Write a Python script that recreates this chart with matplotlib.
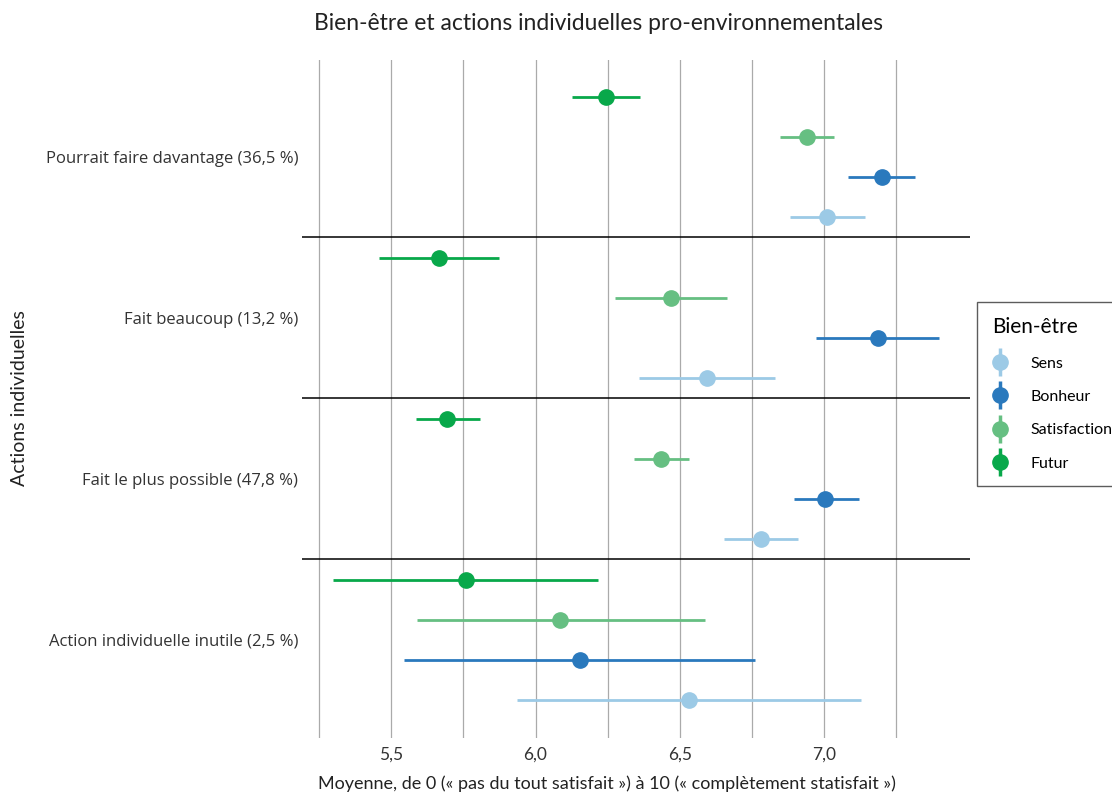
import matplotlib
matplotlib.use("Agg")
import matplotlib.pyplot as plt
from matplotlib.lines import Line2D
import numpy as np

# categories, top to bottom
categories = ["Pourrait faire davantage (36,5 %)", "Fait beaucoup (13,2 %)",
              "Fait le plus possible (47,8 %)", "Action individuelle inutile (2,5 %)"]

# series (legend order) with mean, lower and upper bounds per category
series = ["Sens", "Bonheur", "Satisfaction", "Futur"]
colors = ["#9ccae6", "#2a79bd", "#66bf82", "#08a84a"]

sens_mean = [7.011, 6.593, 6.781, 6.531]
sens_low = [6.882, 6.358, 6.655, 5.935]
sens_high = [7.142, 6.829, 6.910, 7.128]

bonheur_mean = [7.201, 7.186, 7.005, 6.153]
bonheur_low = [7.084, 6.974, 6.895, 5.543]
bonheur_high = [7.316, 7.398, 7.120, 6.762]

satisf_mean = [6.940, 6.468, 6.434, 6.086]
satisf_low = [6.847, 6.276, 6.340, 5.588]
satisf_high = [7.033, 6.663, 6.531, 6.588]

futur_mean = [6.245, 5.665, 5.694, 5.760]
futur_low = [6.126, 5.458, 5.585, 5.298]
futur_high = [6.363, 5.874, 5.809, 6.218]

means = [sens_mean, bonheur_mean, satisf_mean, futur_mean]
lows = [sens_low, bonheur_low, satisf_low, futur_low]
highs = [sens_high, bonheur_high, satisf_high, futur_high]

# vertical offset inside each category band (Sens lowest, Futur highest)
offsets = [0.373, 0.124, -0.124, -0.373]

fig = plt.figure(figsize=(11.12, 7.94), dpi=100)
ax = fig.add_axes([0.272, 0.0705, 0.600, 0.854])

ypos = np.arange(len(categories))
for i, name in enumerate(series):
    y = ypos + offsets[i]
    m = np.array(means[i])
    ax.hlines(y, lows[i], highs[i], color=colors[i], lw=2.0, zorder=3)
    ax.plot(m, y, "o", color=colors[i], ms=11, zorder=4)

for b in [0.5, 1.5, 2.5]:
    ax.axhline(b, color="black", lw=1.1, zorder=2)

ax.set_xlim(5.192, 7.505)
ax.set_ylim(3.61, -0.6)
ax.set_xticks([5.5, 6.0, 6.5, 7.0])
ax.set_xticklabels(["5,5", "6,0", "6,5", "7,0"], fontsize=12.5, color="#333333",
                   family="Lato")
ax.set_xticks([5.25, 5.75, 6.25, 6.75, 7.25], minor=True)
ax.set_yticks(ypos)
ax.set_yticklabels(categories, fontsize=12, color="#333333",
                   family=["Open Sans", "DejaVu Sans"])
ax.tick_params(axis="both", which="both", length=0)
ax.tick_params(axis="x", pad=6)
ax.tick_params(axis="y", pad=3)
ax.grid(True, axis="x", which="both", color="#aaaaaa", lw=0.9, zorder=0)
ax.set_axisbelow(True)
for s in ax.spines.values():
    s.set_visible(False)

fig.text(598 / 1112, 1 - 24 / 794, "Bien-être et actions individuelles pro-environnementales",
         ha="center", va="center", fontsize=16.5, color="#222222", family="Lato")
fig.text(607 / 1112, 1 - 784 / 794,
         "Moyenne, de 0 (« pas du tout satisfait ») à 10 (« complètement statisfait »)",
         ha="center", va="center", fontsize=13, color="#222222", family="Lato")
fig.text(20 / 1112, 1 - 398 / 794, "Actions individuelles", rotation=90,
         ha="center", va="center", fontsize=14, color="#222222",
         family=["Liberation Sans Narrow", "Lato"])

handles = [(Line2D([], [], ls="", marker="|", color=c, ms=20, mew=2.5),
            Line2D([], [], ls="", marker="o", color=c, ms=11)) for c in colors]
leg = fig.legend(handles, series, loc="upper left", bbox_to_anchor=(977 / 1112, 1 - 302 / 794),
                 borderaxespad=0, title="Bien-être", frameon=True, fancybox=False,
                 edgecolor="#333333", prop={"family": "Lato", "size": 11.5},
                 handlelength=1.0, handletextpad=1.4, labelspacing=1.2, borderpad=0.95,
                 alignment="left")
leg.get_title().set_fontsize(15)
leg.get_title().set_family("Lato")
leg.get_frame().set_linewidth(1.0)

fig.savefig("out.png", dpi=100)
